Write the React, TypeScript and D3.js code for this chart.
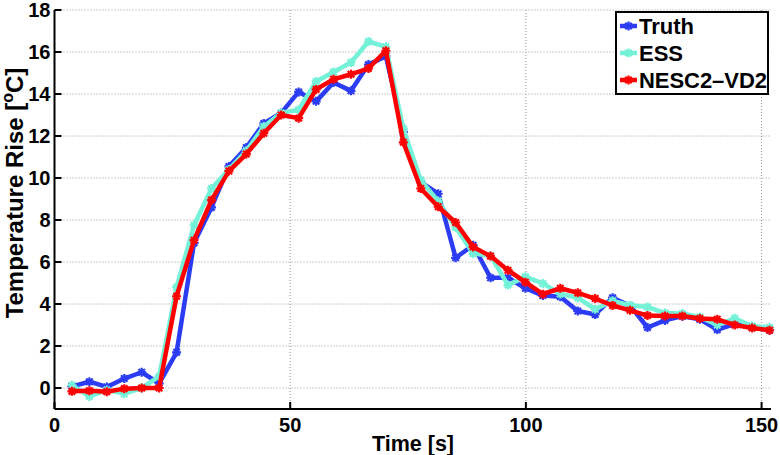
import React from "react";
import * as d3 from "d3";

const times = [3.7, 7.4, 11.1, 14.8, 18.5, 22.2, 25.9, 29.6, 33.3, 37.0, 40.7, 44.4, 48.1, 51.8, 55.5, 59.2, 62.9, 66.6, 70.3, 74.0, 77.7, 81.4, 85.1, 88.8, 92.5, 96.2, 99.9, 103.6, 107.3, 111.0, 114.7, 118.4, 122.1, 125.8, 129.5, 133.2, 136.9, 140.6, 144.3, 148.0, 151.7];

const truth = [0.08, 0.3, 0.05, 0.45, 0.75, 0.22, 1.7, 6.9, 8.6, 10.55, 11.45, 12.6, 13.1, 14.1, 13.65, 14.55, 14.15, 15.4, 15.8, 12.2, 9.8, 9.25, 6.2, 6.8, 5.25, 5.25, 4.75, 4.4, 4.35, 3.67, 3.5, 4.3, 3.92, 2.88, 3.22, 3.42, 3.27, 2.78, 3.04, 2.88, 2.75];

const ess = [0.13, -0.4, -0.1, -0.27, 0.0, 0.55, 4.8, 7.75, 9.5, 10.4, 11.3, 12.45, 13.1, 13.25, 14.6, 15.05, 15.5, 16.5, 16.25, 12.35, 9.9, 8.9, 7.65, 6.4, 6.3, 4.9, 5.3, 4.98, 4.48, 4.3, 3.75, 4.15, 3.94, 3.86, 3.57, 3.55, 3.38, 3.0, 3.32, 2.95, 2.88];

const nesc = [-0.16, -0.13, -0.18, -0.03, 0.0, 0.0, 4.37, 7.04, 8.95, 10.33, 11.14, 12.13, 13.0, 12.85, 14.22, 14.7, 14.94, 15.22, 16.06, 11.7, 9.5, 8.63, 7.88, 6.72, 6.28, 5.61, 5.04, 4.47, 4.75, 4.53, 4.26, 3.93, 3.7, 3.45, 3.43, 3.43, 3.31, 3.27, 3.0, 2.86, 2.75];

const seriesNames = ["Truth", "ESS", "NESC2\u2013VD2"];
const seriesColors = ["#2b3cf2", "#74f2d8", "#ff0000"];
const seriesValues = [truth, ess, nesc];

const xTicks = [0, 50, 100, 150];
const yTicks = [0, 2, 4, 6, 8, 10, 12, 14, 16, 18];

const W = 780;
const H = 455;
const left = 54.5;
const right = 771;
const top = 10;
const bottom = 409;
const FONT = "'Liberation Sans', Arial, Helvetica, sans-serif";

function star(cx: number, cy: number, r: number) {
  const p = d3.path();
  p.moveTo(cx - r, cy);
  p.lineTo(cx + r, cy);
  p.moveTo(cx, cy - r);
  p.lineTo(cx, cy + r);
  const d = r * 0.72;
  p.moveTo(cx - d, cy - d);
  p.lineTo(cx + d, cy + d);
  p.moveTo(cx - d, cy + d);
  p.lineTo(cx + d, cy - d);
  return p.toString();
}

export default function App() {
  const x = d3.scaleLinear().domain([0, 152]).range([left, right]);
  const y = d3.scaleLinear().domain([-1, 18]).range([bottom, top]);
  const line = d3
    .line<number>()
    .x((_, i) => x(times[i]))
    .y((v) => y(v));

  const legX = 616;
  const legY = 12;
  const legW = 152;
  const legH = 82;
  const rowY = [26, 53, 80];

  return (
    <svg width={W} height={H} style={{ position: "absolute", left: 0, top: 0, background: "#fff" }} fontFamily={FONT}>
      <rect x={0} y={0} width={W} height={H} fill="#fff" />
      {/* grid */}
      {yTicks.map((t) => (
        <line key={"gy" + t} x1={left} x2={right} y1={y(t)} y2={y(t)} stroke="#999" strokeWidth={1} strokeDasharray="1,2" />
      ))}
      {xTicks.filter((t) => t > 0).map((t) => (
        <line key={"gx" + t} x1={x(t)} x2={x(t)} y1={top} y2={bottom} stroke="#999" strokeWidth={1} strokeDasharray="1,2" />
      ))}
      {/* series */}
      {seriesValues.map((vals, si) => (
        <g key={"s" + si}>
          <path d={line(vals) || ""} fill="none" stroke={seriesColors[si]} strokeWidth={4.5} strokeLinejoin="round" />
          {vals.map((v, i) => (
            <path key={i} d={star(x(times[i]), y(v), 4.5)} stroke={seriesColors[si]} strokeWidth={2.2} fill="none" />
          ))}
        </g>
      ))}
      {/* axes */}
      <line x1={left} x2={left} y1={top} y2={bottom} stroke="#000" strokeWidth={2} />
      <line x1={left} x2={right} y1={bottom} y2={bottom} stroke="#000" strokeWidth={2} />
      {yTicks.map((t) => (
        <g key={"ty" + t}>
          <line x1={left} x2={left + 7} y1={y(t)} y2={y(t)} stroke="#000" strokeWidth={2} />
          <text x={left - 4} y={y(t)} dy="0.36em" textAnchor="end" fontSize={20} fontWeight="bold">
            {t}
          </text>
        </g>
      ))}
      {xTicks.map((t) => (
        <g key={"tx" + t}>
          <line x1={x(t)} x2={x(t)} y1={bottom} y2={bottom - 7} stroke="#000" strokeWidth={2} />
          <text x={x(t)} y={432} textAnchor="middle" fontSize={20} fontWeight="bold">
            {t}
          </text>
        </g>
      ))}
      <text x={413} y={451} textAnchor="middle" fontSize={21.5} fontWeight="bold">
        Time [s]
      </text>
      <text transform={`translate(23,${193}) rotate(-90)`} textAnchor="middle" fontSize={24} fontWeight="bold">
        Temperature Rise [<tspan fontSize={16} dy={-10}>o</tspan><tspan dy={10}>C]</tspan>
      </text>
      {/* legend */}
      <rect x={legX} y={legY} width={legW} height={legH} fill="#fff" stroke="#000" strokeWidth={2} />
      {seriesNames.map((n, i) => (
        <g key={"l" + i}>
          <line x1={620} x2={637} y1={rowY[i]} y2={rowY[i]} stroke={seriesColors[i]} strokeWidth={4.5} />
          <path d={star(628.5, rowY[i], 4.5)} stroke={seriesColors[i]} strokeWidth={2.2} fill="none" />
          <text x={639} y={rowY[i]} dy="0.36em" fontSize={22} fontWeight="bold" textLength={n.length > 5 ? 128 : undefined}>
            {n}
          </text>
        </g>
      ))}
    </svg>
  );
}
